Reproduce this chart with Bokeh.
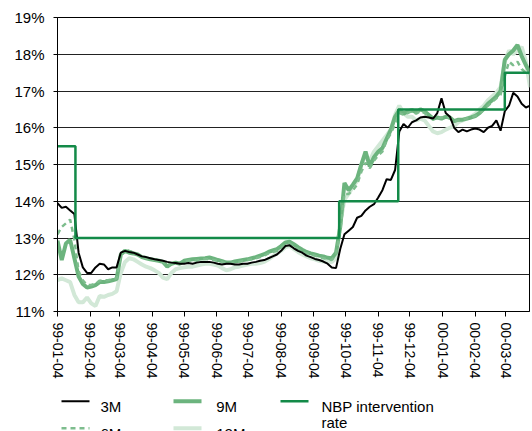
import pandas as pd
from datetime import datetime
from bokeh.plotting import figure
from bokeh.layouts import column
from bokeh.core.properties import value
from bokeh.models import (Range1d, FixedTicker, PrintfTickFormatter, DatetimeTickFormatter,
                          ColumnDataSource)
from bokeh.embed import file_html
from bokeh.resources import INLINE

# ---- data (values in %) ----
start_date = "1999-01-04"
n_obs = 113          # observations every 4 days
obs_step = "4D"

rate_3m = [13.95, 13.82, 13.85, 13.75, 13.65, 12.60, 12.20, 12.05, 12.05, 12.20,
           12.30, 12.28, 12.15, 12.20, 12.20, 12.60, 12.65, 12.62, 12.60, 12.55,
           12.50, 12.48, 12.45, 12.42, 12.40, 12.38, 12.35, 12.33, 12.32, 12.30,
           12.30, 12.32, 12.30, 12.33, 12.35, 12.35, 12.35, 12.33, 12.30, 12.28,
           12.30, 12.30, 12.28, 12.28, 12.30, 12.30, 12.33, 12.35, 12.38, 12.40,
           12.45, 12.50, 12.55, 12.65, 12.78, 12.80, 12.72, 12.65, 12.60, 12.52,
           12.48, 12.43, 12.40, 12.36, 12.30, 12.20, 12.18, 12.70, 13.10, 13.20,
           13.30, 13.55, 13.60, 13.75, 13.85, 13.92, 14.10, 14.30, 14.60, 14.58,
           14.85, 15.90, 16.10, 16.00, 16.15, 16.20, 16.28, 16.30, 16.28, 16.25,
           16.40, 16.80, 16.40, 16.30, 16.00, 15.88, 15.95, 15.90, 15.95, 15.98,
           15.95, 15.88, 16.00, 16.05, 16.20, 15.92, 16.45, 16.60, 16.95, 16.85,
           16.65, 16.55, 16.60]

rate_6m = [13.10, 13.30, 13.40, 13.50, 12.95, 12.10, 11.85, 11.72, 11.72, 11.76,
           11.84, 11.85, 11.85, 11.88, 11.90, 12.55, 12.70, 12.65, 12.62, 12.55,
           12.50, 12.45, 12.42, 12.40, 12.38, 12.35, 12.25, 12.30, 12.33, 12.30,
           12.35, 12.38, 12.40, 12.38, 12.42, 12.43, 12.42, 12.40, 12.38, 12.35,
           12.30, 12.32, 12.33, 12.35, 12.38, 12.40, 12.42, 12.45, 12.48, 12.52,
           12.58, 12.62, 12.65, 12.72, 12.82, 12.85, 12.78, 12.70, 12.62, 12.58,
           12.55, 12.52, 12.48, 12.45, 12.42, 12.40, 12.55, 13.20, 14.20, 14.20,
           14.30, 14.45, 14.80, 15.05, 14.90, 15.10, 15.25, 15.35, 15.65, 15.85,
           16.10, 16.40, 16.35, 16.40, 16.45, 16.38, 16.45, 16.40, 16.30, 16.22,
           16.25, 16.28, 16.30, 16.25, 16.18, 16.20, 16.22, 16.25, 16.28, 16.32,
           16.38, 16.48, 16.60, 16.70, 16.80, 16.90, 17.40, 17.80, 17.70, 17.80,
           17.60, 17.50, 17.45]

rate_9m = [12.93, 12.40, 12.85, 12.95, 12.45, 11.95, 11.75, 11.65, 11.68, 11.72,
           11.80, 11.80, 11.82, 11.85, 11.88, 12.55, 12.65, 12.60, 12.58, 12.55,
           12.48, 12.45, 12.42, 12.40, 12.38, 12.35, 12.22, 12.30, 12.33, 12.30,
           12.38, 12.40, 12.42, 12.43, 12.44, 12.45, 12.47, 12.44, 12.40, 12.37,
           12.33, 12.33, 12.36, 12.38, 12.40, 12.42, 12.45, 12.48, 12.52, 12.56,
           12.62, 12.66, 12.70, 12.78, 12.88, 12.90, 12.83, 12.75, 12.68, 12.62,
           12.58, 12.55, 12.52, 12.50, 12.46, 12.45, 12.60, 13.30, 14.50, 14.30,
           14.45, 14.62, 15.00, 15.35, 14.95, 15.20, 15.35, 15.45, 15.70, 15.95,
           16.30, 16.48, 16.38, 16.45, 16.48, 16.42, 16.50, 16.45, 16.35, 16.25,
           16.28, 16.25, 16.30, 16.28, 16.18, 16.22, 16.22, 16.25, 16.28, 16.32,
           16.40, 16.52, 16.65, 16.75, 16.85, 17.00, 17.85, 18.00, 18.10, 18.25,
           17.95, 17.70, 17.50]

rate_12m = [11.85, 11.90, 11.85, 11.80, 11.45, 11.25, 11.25, 11.38, 11.22, 11.15,
            11.42, 11.40, 11.45, 11.48, 11.55, 12.05, 12.35, 12.45, 12.42, 12.35,
            12.28, 12.22, 12.18, 12.12, 12.05, 11.92, 11.88, 12.05, 12.15, 12.18,
            12.20, 12.22, 12.22, 12.25, 12.28, 12.30, 12.30, 12.28, 12.25, 12.18,
            12.12, 12.15, 12.20, 12.22, 12.25, 12.28, 12.30, 12.30, 12.32, 12.35,
            12.42, 12.50, 12.58, 12.65, 12.75, 12.78, 12.70, 12.62, 12.55, 12.50,
            12.45, 12.42, 12.38, 12.36, 12.35, 12.35, 12.45, 13.40, 14.05, 14.20,
            14.40, 14.55, 15.00, 15.25, 15.10, 15.35, 15.50, 15.65, 15.80, 15.95,
            16.35, 16.60, 16.40, 16.30, 16.30, 16.20, 16.25, 16.20, 16.05, 15.90,
            15.85, 15.88, 15.95, 16.00, 16.05, 16.15, 16.20, 16.25, 16.30, 16.38,
            16.50, 16.60, 16.75, 16.85, 16.95, 17.10, 17.80, 18.10, 18.00, 18.10,
            18.20, 17.80, 17.10]

nbp_dates = ["1999-01-04", "1999-01-21", "1999-09-28", "1999-11-23", "2000-03-03", "2000-03-27"]
nbp_rate = [15.5, 13.0, 14.0, 16.5, 17.5, 17.5]

tick_dates = ["1999-01-04", "1999-02-04", "1999-03-04", "1999-04-04", "1999-05-04",
              "1999-06-04", "1999-07-04", "1999-08-04", "1999-09-04", "1999-10-04",
              "1999-11-04", "1999-12-04", "2000-01-04", "2000-02-04", "2000-03-04"]
y_ticks = [11, 12, 13, 14, 15, 16, 17, 18, 19]

series_names = ["3M", "9M", "NBP intervention rate", "6M", "12M"]

# ---- styles ----
FONT = "Liberation Sans"
c12 = "#d2e8d7"
c9 = "#6cb47e"
c6 = "#7dbd8d"
cnbp = "#138a48"
styles = {
    "3M": dict(line_color="black", line_width=2),
    "6M": dict(line_color=c6, line_width=2.5, line_dash="5 4"),
    "9M": dict(line_color=c9, line_width=4),
    "12M": dict(line_color=c12, line_width=4),
    "NBP intervention rate": dict(line_color=cnbp, line_width=2.5),
}

# ---- main chart ----
dates = pd.date_range(start_date, periods=n_obs, freq=obs_step)
src = ColumnDataSource(dict(date=dates, m3=rate_3m, m6=rate_6m, m9=rate_9m, m12=rate_12m))
nbp_src = ColumnDataSource(dict(date=pd.to_datetime(nbp_dates), r=nbp_rate))

p = figure(width=532, height=386, x_axis_type="datetime", output_backend="svg",
           toolbar_location=None,
           x_range=Range1d(datetime(1999, 1, 4), datetime(2000, 3, 26, 10)),
           y_range=Range1d(11, 19),
           min_border_left=57, min_border_right=3, min_border_top=17, min_border_bottom=75)
p.background_fill_color = "white"
p.border_fill_color = "white"
p.outline_line_color = "black"
p.outline_line_width = 1

p.line("date", "m12", source=src, **styles["12M"])
p.line("date", "m9", source=src, **styles["9M"])
p.line("date", "m6", source=src, **styles["6M"])
p.line("date", "m3", source=src, **styles["3M"])
p.step("date", "r", source=nbp_src, mode="after", **styles["NBP intervention rate"])

tick_ms = (pd.to_datetime(tick_dates).astype("int64") // 10**6).tolist()
p.xaxis.ticker = FixedTicker(ticks=tick_ms)
fmt = "%y-%m-%d"
p.xaxis.formatter = DatetimeTickFormatter(microseconds=fmt, milliseconds=fmt, seconds=fmt,
                                          minsec=fmt, minutes=fmt, hourmin=fmt, hours=fmt,
                                          days=fmt, months=fmt, years=fmt)
p.xaxis.major_label_orientation = "vertical"
p.xaxis.major_tick_out = 5
p.xaxis.major_tick_in = 0
p.xaxis.minor_tick_line_color = None
p.xaxis.major_label_standoff = 6
p.xaxis.major_label_text_font = FONT
p.xaxis.major_label_text_font_size = "14px"
p.xaxis.major_label_text_color = "black"
p.xaxis.axis_line_color = "black"
p.xaxis.major_tick_line_color = "black"

p.yaxis.ticker = FixedTicker(ticks=y_ticks)
p.yaxis.formatter = PrintfTickFormatter(format="%d%%")
p.yaxis.major_tick_out = 4
p.yaxis.major_tick_in = 0
p.yaxis.minor_tick_line_color = None
p.yaxis.major_label_standoff = 9
p.yaxis.major_label_text_font = FONT
p.yaxis.major_label_text_font_size = "15px"
p.yaxis.major_label_text_color = "black"
p.yaxis.axis_line_color = "black"
p.yaxis.major_tick_line_color = "black"

p.xgrid.grid_line_color = None
p.ygrid.ticker = FixedTicker(ticks=y_ticks)
p.ygrid.grid_line_color = "#222222"
p.ygrid.grid_line_width = 1

# ---- legend strip: its frame lines up with the chart frame (page x 57..529) ----
LEG_H = 45
lg = figure(width=532, height=LEG_H, output_backend="svg", toolbar_location=None,
            x_range=Range1d(57, 529), y_range=Range1d(0, LEG_H),
            min_border_left=0, min_border_right=0, min_border_top=0, min_border_bottom=0,
            x_axis_location=None, y_axis_location=None)
lg.outline_line_color = None
lg.grid.grid_line_color = None
lg.background_fill_color = "white"
lg.border_fill_color = "white"

# layout of the legend (page pixels): columns and rows
col_glyph_x = [61, 173, 280]
col_text_x = [100, 215.7, 321]
row_glyph_y = [400.7, 427.7]
row_base_y = [405.7, 432.7]
line_gap = 16
glyph_len = 28
slots = [(0, 0), (0, 1), (0, 2), (1, 0), (1, 1)]   # (row, col) for series_names order
wrap = {"NBP intervention rate": ["NBP intervention", "rate"]}

for name, (r, c) in zip(series_names, slots):
    gy = LEG_H - (row_glyph_y[r] - 386)
    lg.line(x=[col_glyph_x[c], col_glyph_x[c] + glyph_len], y=[gy, gy], **styles[name])
    lines = wrap.get(name, [name])
    for k, txt in enumerate(lines):
        by = LEG_H - (row_base_y[r] + k * line_gap - 386)
        lg.text(x=[col_text_x[c]], y=[by], text=[txt], text_font=value(FONT),
                text_font_size=value("15px"), text_baseline="alphabetic",
                text_align="left", text_color="black")

layout = column(p, lg, spacing=0)
open("out.html", "w").write(file_html(layout, INLINE))
